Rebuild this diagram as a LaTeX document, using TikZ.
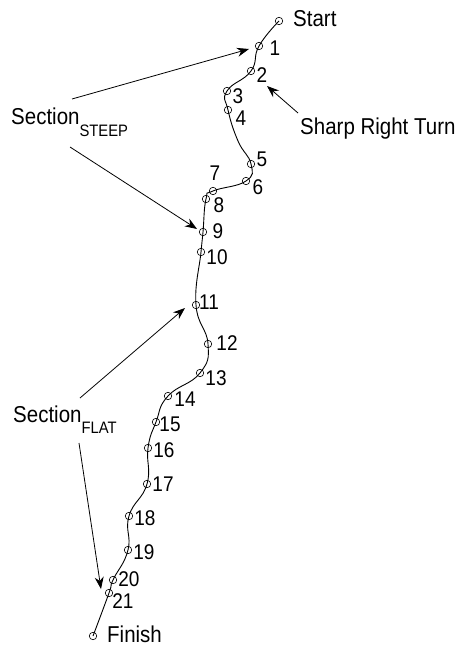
\documentclass[tikz,border=0pt]{standalone}
\usepackage{fontspec}
\setmainfont{Liberation Sans}
\usetikzlibrary{arrows.meta}
\newcommand{\tall}[1]{\scalebox{1}[1.12]{#1}}
\begin{document}
\begin{tikzpicture}[x=1pt,y=-1pt,
  pt/.style={draw,circle,inner sep=0pt,minimum size=7.5pt,line width=0.6pt},
  lbl/.style={font=\fontsize{19}{22}\selectfont,inner sep=0pt},
  big/.style={font=\fontsize{20.5}{24}\selectfont,inner sep=0pt,anchor=base west},
  track/.style={line width=0.9pt},
  pointer/.style={line width=0.8pt,-{Stealth[length=12pt,width=9pt]}}]
\useasboundingbox (0,0) rectangle (458,647);
% track points
\node[pt] (s) at (279,21) {};
\node[pt] (p1) at (259,46) {};
\node[pt] (p2) at (251,71) {};
\node[pt] (p3) at (227,91) {};
\node[pt] (p4) at (228,110) {};
\coordinate (c45) at (238,141);
\node[pt] (p5) at (251,164) {};
\node[pt] (p6) at (246,181) {};
\node[pt] (p7) at (213,191) {};
\node[pt] (p8) at (206,199) {};
\node[pt] (p9) at (203,232) {};
\node[pt] (p10) at (201,252) {};
\node[pt] (p11) at (196,305) {};
\node[pt] (p12) at (208,344) {};
\node[pt] (p13) at (200,373) {};
\node[pt] (p14) at (168,396) {};
\node[pt] (p15) at (156,422) {};
\node[pt] (p16) at (148,448) {};
\node[pt] (p17) at (147,484) {};
\node[pt] (p18) at (129,516) {};
\node[pt] (p19) at (128,550) {};
\node[pt] (p20) at (113,580) {};
\node[pt] (p21) at (109,593) {};
\node[pt] (f) at (93,636) {};
\draw[track] plot[smooth,tension=0.8] coordinates {(s) (p1) (p2) (p3) (p4) (c45) (p5) (p6) (p7) (p8) (p9) (p10) (p11) (p12) (p13) (p14) (p15) (p16) (p17) (p18) (p19) (p20) (p21) (f)};
% point labels
\node[lbl] (l1) at (275,48) {\tall{1}};
\node[lbl] (l2) at (262,75) {\tall{2}};
\node[lbl] (l3) at (238,96) {\tall{3}};
\node[lbl] (l4) at (241,118) {\tall{4}};
\node[lbl] (l5) at (262,159) {\tall{5}};
\node[lbl] (l6) at (258,187) {\tall{6}};
\node[lbl] (l7) at (215,173) {\tall{7}};
\node[lbl] (l8) at (219,205) {\tall{8}};
\node[lbl] (l9) at (218,231) {\tall{9}};
\node[lbl] (l10) at (217,257) {\tall{10}};
\node[lbl] (l11) at (209,302) {\tall{11}};
\node[lbl] (l12) at (227,343) {\tall{12}};
\node[lbl] (l13) at (216,378) {\tall{13}};
\node[lbl] (l14) at (185,399) {\tall{14}};
\node[lbl] (l15) at (170,424) {\tall{15}};
\node[lbl] (l16) at (164,450) {\tall{16}};
\node[lbl] (l17) at (163,484) {\tall{17}};
\node[lbl] (l18) at (145,518) {\tall{18}};
\node[lbl] (l19) at (144,552) {\tall{19}};
\node[lbl] (l20) at (129,579) {\tall{20}};
\node[lbl] (l21) at (123,601) {\tall{21}};
% big labels
\node[big] (tstart) at (293,27) {\tall{Start}};
\node[big] (tfinish) at (107,642) {\tall{Finish}};
\node[big] (tsharp) at (300,135) {\tall{Sharp Right Turn}};
\node[big] (tsteep) at (11,125) {\tall{Section\raisebox{-10pt}{\fontsize{14.8}{17}\selectfont STEEP}}};
\node[big] (tflat) at (13,422) {\tall{Section\raisebox{-10pt}{\fontsize{14.8}{17}\selectfont FLAT}}};
% pointer ends
\coordinate (a1s) at (72,99);   \coordinate (a1e) at (249,49);
\coordinate (a2s) at (70,147);  \coordinate (a2e) at (197,229);
\coordinate (a3s) at (298,113); \coordinate (a3e) at (267,86);
\coordinate (a4s) at (80,398);  \coordinate (a4e) at (185,308);
\coordinate (a5s) at (79,443);  \coordinate (a5e) at (101,589);
\draw[pointer] (a1s) -- (a1e);
\draw[pointer] (a2s) -- (a2e);
\draw[pointer] (a3s) -- (a3e);
\draw[pointer] (a4s) -- (a4e);
\draw[pointer] (a5s) -- (a5e);
\end{tikzpicture}
\end{document}
